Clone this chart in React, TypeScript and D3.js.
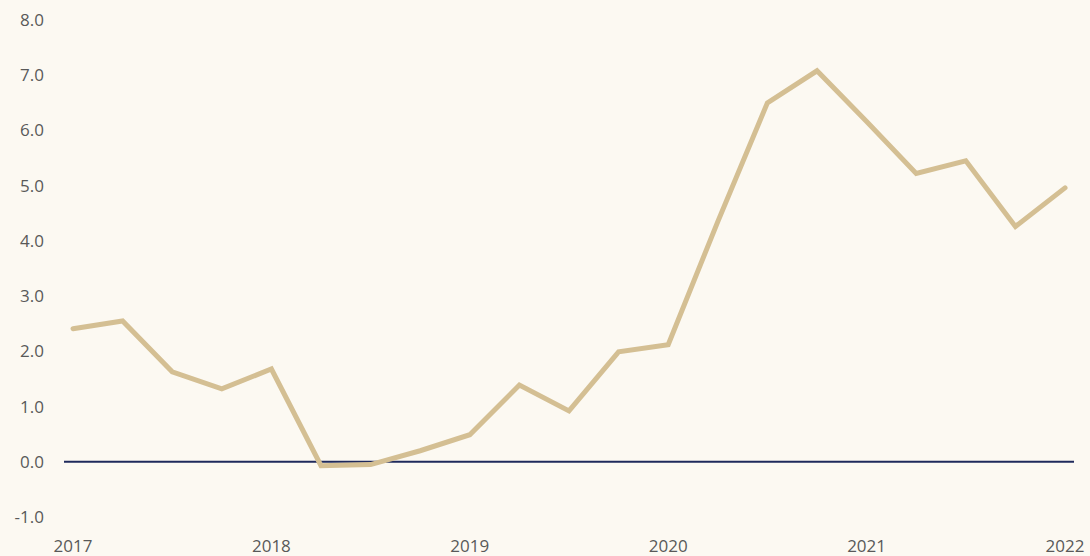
import React from "react";
import * as d3 from "d3";

const quarters: string[] = [
  "2017Q1","2017Q2","2017Q3","2017Q4",
  "2018Q1","2018Q2","2018Q3","2018Q4",
  "2019Q1","2019Q2","2019Q3","2019Q4",
  "2020Q1","2020Q2","2020Q3","2020Q4",
  "2021Q1","2021Q2","2021Q3","2021Q4",
  "2022Q1",
];
const values: number[] = [
  2.41, 2.55, 1.63, 1.32, 1.68, -0.07, -0.05, 0.2, 0.49, 1.39, 0.92, 1.99,
  2.12, 4.35, 6.5, 7.08, 6.16, 5.22, 5.45, 4.26, 4.96,
];
const yTicks: number[] = [-1, 0, 1, 2, 3, 4, 5, 6, 7, 8];
const yearLabels: string[] = ["2017", "2018", "2019", "2020", "2021", "2022"];

const W = 1090;
const H = 556;

export default function App() {
  const x = d3.scaleLinear().domain([0, quarters.length - 1]).range([73, 1065]);
  const y = d3.scaleLinear().domain([-1, 8]).range([517, 20]);
  const line = d3
    .line<number>()
    .x((_, i) => x(i))
    .y((d) => y(d));
  const font = "'Open Sans', sans-serif";
  return (
    <div style={{ position: "fixed", left: 0, top: 0, width: W, height: H, background: "#fcf9f2" }}>
      <svg width={W} height={H} style={{ display: "block" }}>
        <rect x={0} y={0} width={W} height={H} fill="#fcf9f2" />
        {yTicks.map((t) => (
          <text
            key={t}
            x={44}
            y={y(t)}
            dy="0.35em"
            textAnchor="end"
            fontFamily={font}
            fontSize={17}
            fill="#595959"
          >
            {t.toFixed(1)}
          </text>
        ))}
        {yearLabels.map((lab, i) => (
          <text
            key={lab}
            x={x(i * 4)}
            y={546}
            dy="0.35em"
            textAnchor="middle"
            fontFamily={font}
            fontSize={17}
            fill="#595959"
          >
            {lab}
          </text>
        ))}
        <line x1={64} x2={1074} y1={y(0)} y2={y(0)} stroke="#1f2a5c" strokeWidth={2} />
        <path
          d={line(values) || ""}
          fill="none"
          stroke="#d4bf93"
          strokeWidth={5}
          strokeLinejoin="miter"
          strokeLinecap="round"
        />
      </svg>
    </div>
  );
}
